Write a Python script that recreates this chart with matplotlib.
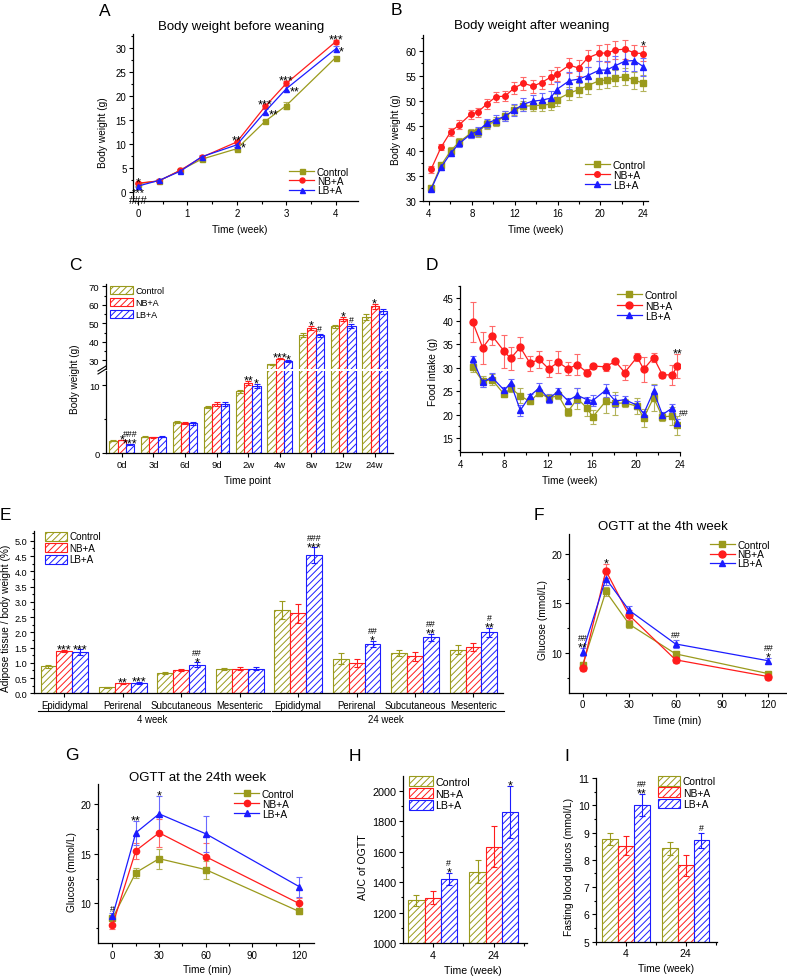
"""Multi-panel body weight / adipose / OGTT figure."""

import matplotlib
matplotlib.use("Agg")
import matplotlib.pyplot as plt
import matplotlib.transforms as mtransforms
from matplotlib.lines import Line2D
from matplotlib.patches import Patch
from matplotlib.ticker import MultipleLocator, FixedLocator
import numpy as np

plt.rcParams["font.family"] = ["Liberation Sans", "DejaVu Sans"]
plt.rcParams["hatch.linewidth"] = 0.7

FIG_W, FIG_H = 787, 978

GROUPS = ["Control", "NB+A", "LB+A"]
COLORS = ["#9a9a1c", "#ff1c1c", "#1c1cff"]
ERR_COLORS = ["#b3b35a", "#ff6a6a", "#6a6aff"]
MARKERS = ["s", "o", "^"]
HATCH = "/////"
STAR_FS = 9.0
HASH_FS = 6.3

# ---- A: body weight before weaning ----
a_days = [0, 3, 6, 9, 14, 18, 21, 28]
a_control = [1.7, 2.3, 4.5, 6.8, 9.0, 14.7, 18.0, 28.0]
a_nb = [1.8, 2.3, 4.5, 7.2, 10.4, 17.8, 22.6, 31.3]
a_lb = [1.2, 2.4, 4.3, 7.3, 9.8, 16.7, 21.5, 29.8]
a_control_err = [0.1, 0.2, 0.2, 0.3, 0.3, 0.3, 0.7, 0.4]
a_nb_err = [0.1, 0.2, 0.2, 0.3, 0.3, 0.4, 0.5, 0.4]
a_lb_err = [0.1, 0.2, 0.2, 0.3, 0.4, 0.5, 0.7, 0.6]
a_marks_above = [(0, 1, "*"), (4, 1, "**"), (5, 1, "***"), (6, 1, "***"), (7, 1, "***")]
a_marks_below = [(0, 2, "***\n###")]
a_marks_right = [(4, 2, "*"), (5, 2, "**"), (6, 2, "**"), (7, 2, "*")]

# ---- B: body weight after weaning ----
b_weeks = [4.19, 5.12, 6.02, 6.83, 7.89, 8.54, 9.38, 10.25, 11.09, 11.93, 12.8, 13.67,
           14.5, 15.35, 15.9, 17.1, 17.96, 18.8, 19.9, 20.58, 21.4, 22.3, 23.16, 24.0]
b_control = [32.5, 37.1, 40.0, 41.8, 43.5, 43.7, 45.3, 45.8, 46.9, 48.1, 48.9, 49.0,
             49.1, 49.3, 50.2, 51.5, 52.2, 53.0, 54.0, 54.1, 54.5, 54.8, 54.1, 53.5]
b_nb = [36.3, 40.7, 43.8, 45.2, 47.3, 47.7, 49.3, 50.8, 50.9, 52.5, 53.5, 52.9,
        53.6, 54.7, 55.3, 57.1, 56.5, 58.5, 59.5, 59.5, 60.1, 60.3, 59.5, 59.4]
b_lb = [32.3, 36.7, 39.5, 41.5, 43.3, 43.9, 45.5, 46.2, 46.9, 48.1, 49.3, 49.9,
        50.1, 50.5, 52.2, 54.0, 54.3, 55.0, 56.1, 56.1, 57.0, 57.9, 58.0, 56.8]
b_control_err = [0.4, 0.5, 0.7, 0.8, 0.9, 0.9, 0.9, 0.9, 1.0, 1.0, 1.0, 1.0,
                 1.1, 1.1, 1.2, 1.3, 1.4, 1.6, 1.6, 1.6, 1.6, 1.7, 1.7, 1.6]
b_nb_err = [0.7, 0.6, 0.8, 0.9, 0.9, 0.9, 1.0, 1.0, 1.0, 1.2, 1.3, 1.3,
            1.3, 1.4, 1.4, 1.5, 1.6, 1.7, 1.6, 1.8, 1.8, 1.9, 1.7, 1.5]
b_lb_err = [0.4, 0.5, 0.6, 0.7, 0.8, 0.9, 0.9, 1.0, 1.0, 1.2, 1.3, 1.3,
            1.4, 1.5, 1.6, 1.7, 1.7, 1.8, 1.8, 1.9, 1.9, 2.0, 2.0, 1.8]
b_marks_above = [(23, 1, "*")]

# ---- C: body weight per time point (broken axis) ----
c_labels = ["0d", "3d", "6d", "9d", "2w", "4w", "8w", "12w", "24w"]
c_control = [1.8, 2.4, 4.6, 6.8, 9.1, 27.8, 43.8, 48.3, 53.3]
c_nb = [1.9, 2.3, 4.5, 7.3, 10.4, 30.9, 47.4, 52.4, 59.2]
c_lb = [1.3, 2.4, 4.4, 7.3, 9.9, 29.6, 43.5, 48.3, 56.4]
c_control_err = [0.05, 0.1, 0.15, 0.2, 0.2, 0.4, 1.0, 1.0, 1.5]
c_nb_err = [0.05, 0.1, 0.15, 0.3, 0.3, 0.5, 1.0, 1.2, 1.5]
c_lb_err = [0.05, 0.1, 0.2, 0.3, 0.3, 0.6, 0.8, 1.1, 1.5]
c_marks = [(0, 1, "*"), (0, 2, "###\n***"), (4, 1, "**"), (4, 2, "*"), (5, 1, "***"),
           (5, 2, "*"), (6, 1, "*"), (6, 2, "#"), (7, 1, "*"), (7, 2, "#"), (8, 1, "*")]

# ---- D: food intake ----
d_weeks = [5.15, 6.06, 6.9, 8.03, 8.6, 9.48, 10.36, 11.2, 12.06, 12.94, 13.8, 14.67,
           15.55, 16.06, 17.24, 18.12, 18.97, 20.1, 20.7, 21.6, 22.4, 23.3, 23.75]
d_control = [30.2, 27.1, 27.5, 24.3, 25.7, 24.0, 22.8, 24.7, 23.5, 24.1, 20.6, 23.4,
             21.4, 19.5, 22.8, 22.4, 22.5, 21.8, 19.3, 23.6, 19.5, 19.7, 17.7]
d_nb = [39.8, 34.3, 36.9, 33.5, 32.0, 34.4, 31.0, 31.8, 29.8, 31.2, 29.8, 30.7,
        29.0, 30.4, 30.2, 31.4, 29.0, 32.3, 29.7, 32.2, 28.5, 28.5, 30.4]
d_lb = [31.8, 26.9, 28.0, 25.2, 26.8, 20.9, 24.0, 25.7, 23.4, 25.0, 23.0, 24.1,
        23.2, 23.0, 25.2, 22.9, 23.2, 22.0, 20.2, 25.0, 20.0, 21.4, 18.3]
d_control_err = [1.0, 1.2, 1.2, 0.6, 0.8, 1.6, 0.6, 0.8, 0.7, 0.8, 0.8, 2.2,
                 1.6, 1.5, 2.5, 2.4, 0.8, 1.7, 2.0, 2.9, 0.9, 2.0, 2.0]
d_nb_err = [4.2, 3.4, 2.0, 3.5, 2.4, 2.2, 1.6, 1.8, 1.8, 2.4, 1.4, 2.2,
            0.8, 0.5, 0.9, 0.5, 1.5, 0.9, 2.7, 0.9, 0.7, 2.1, 2.6]
d_lb_err = [0.8, 0.9, 0.8, 0.6, 0.8, 1.2, 0.5, 1.0, 1.0, 0.7, 0.6, 1.6,
            0.6, 1.2, 1.4, 1.2, 0.8, 0.9, 0.6, 1.4, 0.6, 0.9, 0.8]
d_marks_above = [(22, 1, "**")]
d_marks_upright = [(22, 2, "##")]

# ---- E: adipose tissue / body weight ----
e_tissues = ["Epididymal", "Perirenal", "Subcutaneous", "Mesenteric"]
e_weeks = ["4 week", "24 week"]
e_control = [0.88, 0.20, 0.67, 0.81, 2.72, 1.13, 1.33, 1.43]
e_nb = [1.38, 0.33, 0.77, 0.81, 2.62, 0.99, 1.22, 1.52]
e_lb = [1.35, 0.33, 0.93, 0.81, 4.53, 1.63, 1.84, 2.00]
e_control_err = [0.04, 0.02, 0.04, 0.03, 0.30, 0.18, 0.10, 0.14]
e_nb_err = [0.04, 0.02, 0.04, 0.04, 0.30, 0.13, 0.15, 0.14]
e_lb_err = [0.09, 0.03, 0.08, 0.04, 0.25, 0.10, 0.12, 0.14]
e_marks = [(0, 1, "***"), (0, 2, "***"), (1, 1, "**"), (1, 2, "***"), (2, 2, "##\n*"),
           (4, 2, "###\n***"), (5, 2, "##\n*"), (6, 2, "##\n**"), (7, 2, "#\n**")]

# ---- F: OGTT at the 4th week ----
ogtt_min = [0, 15, 30, 60, 120]
f_control = [8.8, 16.2, 12.9, 9.9, 7.9]
f_nb = [8.5, 18.3, 13.8, 9.3, 7.6]
f_lb = [10.1, 17.5, 14.3, 10.9, 9.2]
f_control_err = [0.3, 0.5, 0.4, 0.3, 0.2]
f_nb_err = [0.3, 0.7, 0.5, 0.3, 0.3]
f_lb_err = [0.4, 0.6, 0.4, 0.4, 0.3]
f_marks_above = [(0, 2, "##\n**"), (1, 1, "*"), (3, 2, "##"), (4, 2, "##\n*")]

# ---- G: OGTT at the 24th week ----
g_control = [8.5, 13.1, 14.5, 13.4, 9.2]
g_nb = [7.8, 15.3, 17.1, 14.7, 10.0]
g_lb = [8.7, 17.1, 19.0, 17.0, 11.7]
g_control_err = [0.3, 0.5, 1.0, 0.9, 0.3]
g_nb_err = [0.4, 0.8, 1.4, 1.4, 0.5]
g_lb_err = [0.3, 1.2, 1.8, 1.8, 1.0]
g_marks_above = [(0, 2, "#"), (1, 2, "**"), (2, 2, "*")]

# ---- H: AUC of OGTT ----
hi_weeks = ["4", "24"]
h_control = [1279, 1468]
h_nb = [1297, 1633]
h_lb = [1422, 1862]
h_control_err = [33, 77]
h_nb_err = [44, 132]
h_lb_err = [40, 171]
h_marks = [(0, 2, "#\n*"), (1, 2, "*")]

# ---- I: fasting blood glucose ----
i_control = [8.78, 8.42]
i_nb = [8.51, 7.80]
i_lb = [10.02, 8.71]
i_control_err = [0.22, 0.25]
i_nb_err = [0.35, 0.38]
i_lb_err = [0.40, 0.29]
i_marks = [(0, 2, "##\n**"), (1, 2, "#")]


def add_axes(fig, box):
    left, top, right, bottom = box
    return fig.add_axes([left / FIG_W, 1 - bottom / FIG_H,
                         (right - left) / FIG_W, (bottom - top) / FIG_H])


def axes_frac(box, px, py):
    left, top, right, bottom = box
    return (px - left) / (right - left), (bottom - py) / (bottom - top)


def fig_frac(px, py):
    return px / FIG_W, 1 - py / FIG_H


def style_axes(ax, fs):
    for side in ("top", "right"):
        ax.spines[side].set_visible(False)
    for side in ("left", "bottom"):
        ax.spines[side].set_linewidth(0.9)
    ax.tick_params(which="both", direction="out", width=0.8, labelsize=fs, pad=1.5)
    ax.tick_params(which="major", length=3.2)
    ax.tick_params(which="minor", length=1.8)


def set_labels(ax, box, xlabel, xlab_pos, ylabel, ylab_pos, fs=7.3):
    if xlabel:
        ax.set_xlabel(xlabel, fontsize=fs, va="center")
        ax.xaxis.set_label_coords(*axes_frac(box, *xlab_pos))
    if ylabel:
        ax.set_ylabel(ylabel, fontsize=fs, va="center")
        ax.yaxis.set_label_coords(*axes_frac(box, *ylab_pos))


def glyph_span(line):
    """Font size and vertical extent (in em) of a line of '*' or '#'."""
    if "*" in line:
        return STAR_FS, 0.43, 0.72
    return HASH_FS, 0.0, 0.69


def _mark_text(ax, x, y, line, fs, dx, base, ha):
    ax.annotate(line, (x, y), xytext=(dx, base), textcoords="offset points",
                fontsize=fs, ha=ha, va="baseline", annotation_clip=False)


def put_mark(ax, x, y, text, where):
    lines = text.split("\n")
    if where == "below":
        # stars over hashes in one text block under the point
        ax.annotate(text, (x, y), xytext=(0, -0.5), textcoords="offset points",
                    fontsize=8, ha="center", va="top", linespacing=0.72,
                    annotation_clip=False)
        return
    if where == "right":
        fs, lo, hi = glyph_span(lines[0])
        _mark_text(ax, x, y, lines[0], fs, 2.5, -(lo + hi) / 2 * fs + 1.0, "left")
        return
    if where == "upright":
        cursor, dx, ha = 5.5, 1.5, "left"
    else:
        cursor, dx, ha = 2.0, 0, "center"
    for line in reversed(lines):
        fs, lo, hi = glyph_span(line)
        base = cursor - lo * fs
        _mark_text(ax, x, y, line, fs, dx, base, ha)
        cursor = base + hi * fs + 1.0


def draw_lines(ax, x, ys, errs, ms):
    for y, e, c, ec, m in zip(ys, errs, COLORS, ERR_COLORS, MARKERS):
        ax.errorbar(x, y, yerr=e, color=c, ecolor=ec, marker=m, ms=ms, mec=c,
                    lw=0.9, elinewidth=0.8, capsize=2.2, capthick=0.8)


def line_marks(ax, x, ys, errs, marks, where):
    for i, s, txt in marks:
        if where == "above":
            y = ys[s][i] + errs[s][i]
        elif where == "below":
            y = ys[s][i] - errs[s][i]
        else:
            y = ys[s][i]
        put_mark(ax, x[i], y, txt, where)


def line_legend(ax, fig, loc, anchor, fs, ms, spacing):
    handles = [Line2D([], [], color=c, marker=m, ms=ms, lw=0.9)
               for c, m in zip(COLORS, MARKERS)]
    ax.legend(handles, GROUPS, loc=loc, bbox_to_anchor=fig_frac(*anchor),
              bbox_transform=fig.transFigure, frameon=False, fontsize=fs,
              handlelength=2.5, handletextpad=0.25, labelspacing=spacing,
              borderpad=0, borderaxespad=0)


def draw_bars(ax, vals, errs, width):
    x = np.arange(len(vals[0]))
    for i, (v, e, c) in enumerate(zip(vals, errs, COLORS)):
        ax.bar(x + (i - 1) * width, v, width, yerr=e, color="white", edgecolor=c,
               hatch=HATCH, linewidth=0.8,
               error_kw=dict(ecolor=c, elinewidth=0.8, capsize=2, capthick=0.8))
    return x


def bar_marks(ax, vals, errs, marks, width):
    for g, s, txt in marks:
        put_mark(ax, g + (s - 1) * width, vals[s][g] + errs[s][g], txt, "above")


def bar_legend(ax, fig, loc, anchor, fs, hlen, spacing):
    handles = [Patch(facecolor="white", edgecolor=c, hatch=HATCH, linewidth=0.8)
               for c in COLORS]
    ax.legend(handles, GROUPS, loc=loc, bbox_to_anchor=fig_frac(*anchor),
              bbox_transform=fig.transFigure, frameon=False, fontsize=fs,
              handlelength=hlen, handleheight=1.05, handletextpad=0.25,
              labelspacing=spacing, borderpad=0, borderaxespad=0)


def panel_letter(fig, x, y, letter):
    fig.text(*fig_frac(x, y), letter, fontsize=12.5, ha="left", va="baseline")


def panel_title(fig, x, y, title):
    fig.text(*fig_frac(x, y), title, fontsize=9.5, ha="center", va="baseline")


def panel_a(fig):
    box = (133, 35, 358, 202)
    ax = add_axes(fig, box)
    x = np.array(a_days) / 7
    ys = [a_control, a_nb, a_lb]
    es = [a_control_err, a_nb_err, a_lb_err]
    draw_lines(ax, x, ys, es, ms=3.6)
    ax.set_xlim(-0.1, 4.45)
    ax.set_ylim(-1.9, 32.9)
    ax.xaxis.set_major_locator(MultipleLocator(1))
    ax.xaxis.set_minor_locator(MultipleLocator(0.5))
    ax.yaxis.set_major_locator(MultipleLocator(5))
    ax.yaxis.set_minor_locator(MultipleLocator(2.5))
    style_axes(ax, 7)
    set_labels(ax, box, "Time (week)", (240, 230), "Body weight (g)", (103, 133))
    line_legend(ax, fig, "lower right", (349, 196), 7.2, 3.6, -0.08)
    line_marks(ax, x, ys, es, a_marks_above, "above")
    line_marks(ax, x, ys, es, a_marks_below, "below")
    line_marks(ax, x, ys, es, a_marks_right, "right")
    panel_letter(fig, 99, 16, "A")
    panel_title(fig, 241, 30, "Body weight before weaning")


def panel_b(fig):
    box = (423, 36, 648, 202)
    ax = add_axes(fig, box)
    ys = [b_control, b_nb, b_lb]
    es = [b_control_err, b_nb_err, b_lb_err]
    draw_lines(ax, b_weeks, ys, es, ms=4)
    ax.set_xlim(3.44, 24.44)
    ax.set_ylim(30, 63.1)
    ax.xaxis.set_major_locator(MultipleLocator(4))
    ax.xaxis.set_minor_locator(MultipleLocator(2))
    ax.yaxis.set_major_locator(MultipleLocator(5))
    ax.yaxis.set_minor_locator(MultipleLocator(2.5))
    style_axes(ax, 7)
    set_labels(ax, box, "Time (week)", (536, 230), "Body weight (g)", (396, 130))
    line_legend(ax, fig, "lower right", (646, 191), 7.4, 4, 0.0)
    line_marks(ax, b_weeks, ys, es, b_marks_above, "above")
    panel_letter(fig, 391, 15, "B")
    panel_title(fig, 532, 29, "Body weight after weaning")


def panel_c(fig):
    hi_box = (106, 285, 393, 369.5)
    lo_box = (106, 371.5, 393, 454)
    ax_hi = add_axes(fig, hi_box)
    ax_lo = add_axes(fig, lo_box)
    vals = [c_control, c_nb, c_lb]
    errs = [c_control_err, c_nb_err, c_lb_err]
    width = 0.263
    for ax in (ax_hi, ax_lo):
        x = draw_bars(ax, vals, errs, width)
        ax.set_xlim(-0.5, 8.58)
        style_axes(ax, 6.8)
    ax_hi.set_ylim(25.5, 71.3)
    ax_lo.set_ylim(0, 12.2)
    ax_hi.spines["bottom"].set_visible(False)
    ax_hi.tick_params(axis="x", which="both", bottom=False, labelbottom=False)
    ax_hi.yaxis.set_major_locator(MultipleLocator(10))
    ax_hi.yaxis.set_minor_locator(MultipleLocator(5))
    ax_lo.yaxis.set_major_locator(MultipleLocator(10))
    ax_lo.yaxis.set_minor_locator(MultipleLocator(5))
    ax_lo.set_xticks(x)
    ax_lo.set_xticklabels(c_labels)
    set_labels(ax_lo, lo_box, "Time point", (247, 481), None, None)
    fig.text(*fig_frac(75.5, 379), "Body weight (g)", rotation=90, fontsize=7.2,
             ha="center", va="center")
    # break marks on the y axis
    for dy in (0, 3):
        fig.add_artist(Line2D([98 / FIG_W, 106 / FIG_W],
                              [1 - (372 + dy) / FIG_H, 1 - (367 + dy) / FIG_H],
                              color="black", lw=0.8))
    bar_legend(ax_hi, fig, "upper left", (110, 287), 6.5, 2.6, 0.3)
    for g, s, txt in c_marks:
        y = vals[s][g] + errs[s][g]
        ax = ax_hi if y > 20 else ax_lo
        put_mark(ax, g + (s - 1) * width, y, txt, "above")
    panel_letter(fig, 69, 270, "C")


def panel_d(fig):
    box = (460, 287, 680, 453)
    ax = add_axes(fig, box)
    ys = [d_control, d_nb, d_lb]
    es = [d_control_err, d_nb_err, d_lb_err]
    draw_lines(ax, d_weeks, ys, es, ms=5)
    ax.set_xlim(4, 24)
    ax.set_ylim(12, 47.5)
    ax.xaxis.set_major_locator(MultipleLocator(4))
    ax.xaxis.set_minor_locator(MultipleLocator(2))
    ax.yaxis.set_major_locator(MultipleLocator(5))
    ax.yaxis.set_minor_locator(MultipleLocator(2.5))
    style_axes(ax, 7)
    ax.set_yticks([15, 20, 25, 30, 35, 40, 45])
    set_labels(ax, box, "Time (week)", (570, 481.5), "Food intake (g)", (432.7, 372))
    line_legend(ax, fig, "upper right", (678, 291), 7.4, 5, 0.05)
    line_marks(ax, d_weeks, ys, es, d_marks_above, "above")
    line_marks(ax, d_weeks, ys, es, d_marks_upright, "upright")
    panel_letter(fig, 426, 270, "D")


def panel_e(fig):
    box = (34, 532, 503.3, 694.3)
    ax = add_axes(fig, box)
    vals = [e_control, e_nb, e_lb]
    errs = [e_control_err, e_nb_err, e_lb_err]
    width = 0.272
    x = draw_bars(ax, vals, errs, width)
    ax.set_xlim(-0.52, 7.51)
    ax.set_ylim(0, 5.32)
    ax.yaxis.set_major_locator(MultipleLocator(0.5))
    ax.yaxis.set_minor_locator(MultipleLocator(0.25))
    ax.yaxis.set_major_formatter(plt.FormatStrFormatter("%.1f"))
    style_axes(ax, 6.6)
    ax.set_xticks(x)
    ax.set_xticklabels(e_tissues * len(e_weeks), fontsize=6.9)
    ax.set_ylabel("Adipose tissue / body weight (%)", fontsize=7.3, va="center")
    ax.yaxis.set_label_coords(*axes_frac(box, 6, 618))
    trans = mtransforms.blended_transform_factory(ax.transData, ax.transAxes)
    n = len(e_tissues)
    for k, label in enumerate(e_weeks):
        ax.plot([k * n - 0.45, k * n + n - 0.48], [-0.107, -0.107], color="black",
                lw=0.8, transform=trans, clip_on=False)
        ax.text(k * n + (n - 1) / 2, -0.158, label, transform=trans, fontsize=6.9,
                ha="center", va="center")
    bar_legend(ax, fig, "upper left", (45, 532.5), 7.1, 2.2, 0.15)
    bar_marks(ax, vals, errs, e_marks, width)
    panel_letter(fig, 0, 520, "E")


def ogtt_axes(ax, fs):
    ax.set_ylim(6, 22)
    ax.xaxis.set_major_locator(MultipleLocator(30))
    ax.xaxis.set_minor_locator(MultipleLocator(15))
    ax.yaxis.set_major_locator(MultipleLocator(5))
    ax.yaxis.set_minor_locator(MultipleLocator(2.5))
    style_axes(ax, fs)


def panel_f(fig):
    box = (569, 535, 786, 693.5)
    ax = add_axes(fig, box)
    ys = [f_control, f_nb, f_lb]
    es = [f_control_err, f_nb_err, f_lb_err]
    draw_lines(ax, ogtt_min, ys, es, ms=5)
    ax.set_xlim(-8.8, 131.3)
    ogtt_axes(ax, 7)
    set_labels(ax, box, "Time (min)", (677, 721), "Glucose (mmol/L)", (542.5, 620))
    line_legend(ax, fig, "upper right", (770, 541), 7.3, 5, -0.08)
    line_marks(ax, ogtt_min, ys, es, f_marks_above, "above")
    panel_letter(fig, 534, 520, "F")
    panel_title(fig, 663, 530, "OGTT at the 4th week")


def panel_g(fig):
    box = (97.7, 785, 314.3, 944.3)
    ax = add_axes(fig, box)
    ys = [g_control, g_nb, g_lb]
    es = [g_control_err, g_nb_err, g_lb_err]
    draw_lines(ax, ogtt_min, ys, es, ms=4.5)
    ax.set_xlim(-9.5, 129.8)
    ogtt_axes(ax, 7)
    set_labels(ax, box, "Time (min)", (206.7, 970), "Glucose (mmol/L)", (72, 872))
    line_legend(ax, fig, "upper left", (234, 790), 7.3, 4.5, 0.0)
    line_marks(ax, ogtt_min, ys, es, g_marks_above, "above")
    panel_letter(fig, 65, 760, "G")
    panel_title(fig, 197.5, 781, "OGTT at the 24th week")


def small_bar_axes(ax, x):
    ax.set_xticks(x)
    ax.set_xticklabels(hi_weeks)
    ax.xaxis.set_minor_locator(FixedLocator([-0.5, 0.5, 1.5]))


def panel_h(fig):
    box = (403.3, 776.7, 526.7, 944)
    ax = add_axes(fig, box)
    vals = [h_control, h_nb, h_lb]
    errs = [h_control_err, h_nb_err, h_lb_err]
    width = 0.265
    x = draw_bars(ax, vals, errs, width)
    ax.set_xlim(-0.48, 1.54)
    ax.set_ylim(1000, 2098)
    ax.yaxis.set_major_locator(MultipleLocator(200))
    ax.yaxis.set_minor_locator(MultipleLocator(100))
    style_axes(ax, 7.8)
    small_bar_axes(ax, x)
    set_labels(ax, box, "Time (week)", (473, 971), "AUC of OGTT", (363.5, 867), fs=7.6)
    bar_legend(ax, fig, "upper left", (409, 777), 7.7, 2.2, 0.12)
    bar_marks(ax, vals, errs, h_marks, width)
    panel_letter(fig, 349, 761, "H")


def panel_i(fig):
    box = (596, 779, 716.7, 942.7)
    ax = add_axes(fig, box)
    vals = [i_control, i_nb, i_lb]
    errs = [i_control_err, i_nb_err, i_lb_err]
    width = 0.264
    x = draw_bars(ax, vals, errs, width)
    ax.set_xlim(-0.5, 1.52)
    ax.set_ylim(5, 11)
    ax.yaxis.set_major_locator(MultipleLocator(1))
    ax.yaxis.set_minor_locator(MultipleLocator(0.5))
    style_axes(ax, 7.5)
    small_bar_axes(ax, x)
    set_labels(ax, box, "Time (week)", (665.7, 969),
               "Fasting blood glucos (mmol/L)", (569, 867), fs=7.4)
    bar_legend(ax, fig, "upper right", (716, 777), 7.4, 2.2, 0.1)
    bar_marks(ax, vals, errs, i_marks, width)
    panel_letter(fig, 564, 761, "I")


def main():
    fig = plt.figure(figsize=(FIG_W / 100, FIG_H / 100), dpi=100)
    fig.patch.set_facecolor("white")
    for panel in (panel_a, panel_b, panel_c, panel_d, panel_e,
                  panel_f, panel_g, panel_h, panel_i):
        panel(fig)
    fig.savefig("out.png", dpi=100, facecolor="white")
    plt.close(fig)


if __name__ == "__main__":
    main()
